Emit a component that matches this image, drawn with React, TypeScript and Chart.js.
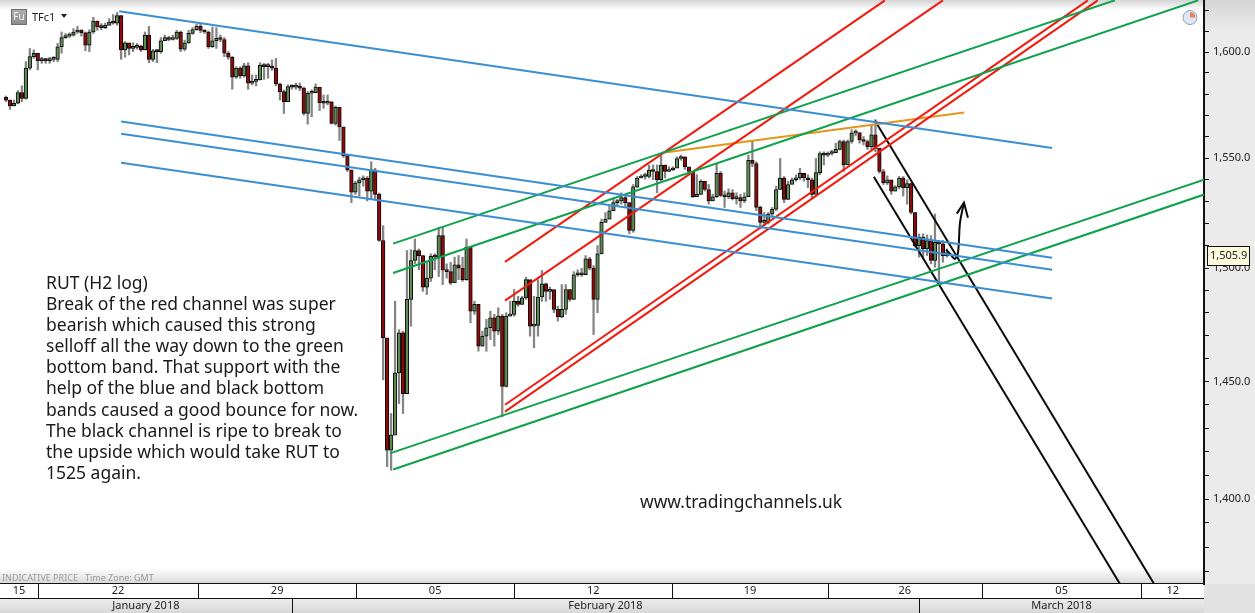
import React, { useEffect, useRef } from "react";
import { Chart, registerables } from "chart.js";

Chart.register(...registerables);

const closes = [
  1577.2,1574.4,1575.7,1580.7,1578,1592.3,1597.8,1599.4,1595.9,1596.5,1595.9,1596.5,1596.5,1602.5,1606.9,1607.6,1608.1,1609.6,1610.4,1609.2,
  1603.3,1609.6,1614.9,1612,1611.7,1612.8,1614.4,1613.9,1617.5,1601,1604.4,1601.7,1602.2,1602.8,1601,1608.1,1596.5,1600.6,1600.2,1605.4,
  1606.9,1606,1606.5,1609.6,1601.3,1604.4,1608.9,1610.7,1612.3,1610.4,1609.6,1602.5,1605.4,1606.5,1606,1599.4,1597.5,1588,1592.3,1588.6,
  1593.4,1585.2,1586,1586.7,1593.8,1593,1593,1592.3,1584.8,1581.2,1576.4,1583.6,1583.3,1583.3,1582.8,1570.9,1580.4,1580.7,1583.3,1576,
  1575.7,1576.4,1566.2,1573.8,1564.6,1551.2,1544.6,1534.4,1538.6,1540.1,1540.9,1534.9,1544.6,1533.4,1512.4,1469.1,1420.6,1427,1453.7,1471.3,
  1444.8,1486,1503.4,1507.9,1505.6,1491.5,1495.5,1505.3,1504.9,1514.6,1499.2,1498.4,1493.3,1501.4,1499.9,1494.8,1509.4,1480.8,1483.8,1465.4,
  1469.8,1473.5,1477.9,1472,1478.6,1447.9,1478.6,1479.4,1485.2,1483.8,1486.7,1494.8,1474.2,1474.5,1487.1,1493,1489.6,1490.4,1481.6,1478.3,
  1481.6,1490.4,1486,1497,1497,1497,1504.1,1500,1486,1506.4,1520.6,1522.1,1525.9,1529.6,1530.4,1531.9,1529.6,1516.9,1536.8,1540.9,
  1541.6,1541.6,1544.6,1543.9,1540.1,1546.9,1543.9,1544.6,1545.4,1549.9,1550.7,1546.1,1543.9,1532.3,1533.4,1539.4,1535.6,1530.4,1532.3,1543.1,
  1532.9,1532.3,1534.1,1531.4,1531.9,1530.4,1532.3,1549.1,1547.6,1527.4,1520.6,1520.6,1524.4,1526.6,1535.6,1540.9,1531.1,1537.9,1540.1,1540.9,
  1543.1,1540.9,1540.1,1533.4,1543.4,1552.2,1551.5,1552.2,1552.6,1554.1,1557.8,1546.9,1557.8,1561.7,1562,1558.5,1557.8,1555.4,1560.9,1554.6,
  1543.9,1538.6,1540.1,1534.9,1536.8,1540.9,1536.4,1538.3,1525.1,1510.1,1513.9,1508.6,1512.4,1503.4,1511.6,1510.9,1505.6,1506.8,
];
const highs = [
  1579.1,1577.2,1577.2,1581.7,1583.9,1595.4,1601.7,1601,1597.5,1597.5,1597,1597.5,1597.8,1604.1,1609.6,1608.9,1609.2,1611.2,1612.3,1610.7,
  1609.6,1610.7,1616.7,1614.9,1613.6,1613.9,1616,1618,1619,1617.5,1604.9,1604.1,1604.4,1604.1,1603.3,1609.6,1612.3,1601.3,1601,1606.9,
  1608.1,1607.6,1608.1,1610.4,1610.1,1605.7,1610.4,1611.7,1613.3,1613.3,1610.7,1610.1,1612,1611.7,1608.1,1606.9,1600.2,1598,1593,1593,
  1594.6,1594.9,1589,1589,1594.9,1594.6,1594.6,1596.2,1597,1585.2,1582,1584.4,1584.4,1585.2,1585.2,1583.3,1581.2,1582,1584.8,1581.2,
  1579.6,1579.6,1576.4,1574.4,1573.8,1564.3,1551.2,1544.6,1539.4,1541.3,1541.9,1541.6,1548.4,1545.4,1534,1519.1,1465.4,1436.2,1485.2,1472.7,
  1472,1507.9,1508.3,1513.1,1508.6,1505.6,1502.6,1506.4,1506.4,1518.4,1518.4,1501.9,1502.6,1504.9,1505.6,1504.9,1513.1,1495.5,1485.2,1483.8,
  1472,1477.2,1480.8,1479.4,1482.3,1479.4,1480.1,1485.2,1490.4,1487.4,1487.4,1495.9,1492.6,1487.4,1494.8,1498.9,1493.3,1491.5,1490.1,1483,
  1492.6,1492.6,1490.4,1498.4,1499.2,1499.9,1505.6,1504.9,1501.1,1510.1,1522.1,1525.1,1528.1,1531.1,1531.1,1534.1,1532.6,1529.6,1537.9,1541.6,
  1542.4,1543.1,1546.9,1546.9,1546.9,1551.5,1546.9,1546.1,1546.1,1550.7,1551.5,1550.7,1545.4,1543.9,1542.4,1540.1,1539.4,1537.9,1533.4,1547.6,
  1543.9,1534.9,1535.9,1535.6,1534.1,1533.4,1534.1,1551.5,1557.8,1548.4,1528.1,1525.1,1525.1,1527.4,1537.1,1549.9,1541.6,1539.4,1540.9,1542.4,
  1545.4,1543.1,1542.4,1540.9,1549.9,1553,1553,1553,1553.8,1557,1558.5,1558.5,1558.5,1563.3,1563.3,1561.7,1560.1,1558.5,1565.6,1568,
  1552.2,1544.9,1541.9,1539.4,1537.4,1541.6,1541.6,1540.1,1538.6,1525.1,1515.4,1515.4,1514.9,1514.6,1524.4,1512.4,1512.4,1508.6,
];
const lows = [
  1576.4,1572.8,1574.4,1575.4,1576.4,1577.6,1591.5,1597,1591.5,1594.6,1594.6,1594.6,1595.4,1595.4,1599.4,1606.5,1606.9,1607.6,1608.9,1607.6,
  1600.6,1600.2,1608.9,1610.4,1610.7,1611.2,1613.3,1613.3,1612.8,1596.5,1597.5,1598.6,1600.2,1601.3,1600.2,1601,1594.9,1595.4,1594.9,1599.4,
  1605.4,1605.4,1605.7,1606,1600.2,1600.6,1604.1,1608.5,1610.4,1609.2,1608.9,1601.7,1602.2,1601.7,1604.9,1597.8,1596.5,1582.3,1587.5,1587.5,
  1588,1582.3,1584.4,1583.9,1586.7,1587,1587.5,1591.2,1583.9,1577.2,1570.9,1578.8,1582.3,1582.3,1581.7,1570.1,1565.9,1569.4,1581.7,1572.2,
  1573.3,1574.9,1565.9,1565.4,1558.3,1550.4,1543.9,1529.6,1533.4,1532.6,1537.1,1530.4,1531.1,1531.1,1512,1450.7,1413.6,1412.1,1443.3,1440.5,
  1436.2,1464.7,1474.2,1501.9,1499.2,1489.6,1488.2,1494,1499.2,1496.2,1492.6,1495.5,1492.6,1494,1494.8,1494,1494.5,1475.7,1479.4,1463.2,
  1465.4,1463.2,1468.3,1465.4,1470.5,1434.8,1447.6,1478.6,1478.6,1483,1483.8,1486,1469.8,1464.7,1469.8,1485.2,1485.2,1486,1480.1,1476.4,
  1477.9,1479.4,1485.2,1486,1496.2,1496.2,1497,1499.2,1470.5,1480.1,1506.4,1520.6,1522.1,1526.6,1528.1,1528.9,1527.4,1515.4,1516.1,1536.4,
  1540.9,1540.4,1540.9,1540.1,1534.1,1539.4,1540.9,1543.9,1544.3,1548.4,1549.1,1544.9,1542.4,1531.9,1532.6,1533.4,1534.9,1528.9,1530.4,1531.9,
  1532.3,1527.4,1531.4,1530.8,1528.9,1527.4,1529.6,1532.3,1546.1,1525.9,1517.6,1519.1,1519.9,1523.6,1525.9,1535.6,1529.6,1531.1,1538.6,1539.4,
  1540.1,1539.4,1536.4,1531.9,1534.9,1542.4,1546.9,1550.7,1551.5,1553,1553.8,1543.9,1555.4,1557,1560.4,1557,1556.2,1554.1,1553.8,1553,
  1543.1,1537.9,1537.9,1533.4,1534.9,1535.9,1532.6,1528.9,1524.4,1509.4,1504.9,1504.9,1505.6,1501.9,1500.4,1493.6,1502.6,1504.9,
];
const firstOpen = 1578.5;
const opens = closes.map((_, i) => (i === 0 ? firstOpen : closes[i - 1]));

const priceTicks = [1370,1380,1390,1400,1410,1420,1430,1440,1450,1460,1470,1480,1490,1500,1510,1520,1530,1540,1550,1560,1570,1580,1590,1600,1610,1620];
const weekBoundaries = [8.06, 48.4, 88.2, 128, 167.8, 207, 245.8, 286];
const weekLabels = ["15", "22", "29", "05", "12", "19", "26", "05", "12"];
const monthBoundaries = [72, 230];
const monthLabels = ["January 2018", "February 2018", "March 2018"];
const lastPriceLabel = "1,505.9";
const noteLines = [
  "RUT (H2 log)",
  "Break of the red channel was super",
  "bearish which caused this strong",
  "selloff all the way down to the green",
  "bottom band. That support with the",
  "help of the blue and black bottom",
  "bands caused a good bounce for now.",
  "The black channel is ripe to break to",
  "the upside which would take RUT to",
  "1525 again.",
];
const siteLabel = "www.tradingchannels.uk";
const footerLabel = "INDICATIVE PRICE   Time Zone: GMT";
const symbolLabel = "TFc1";
const badgeLabel = "Fu";

const blue = "#3a8fd2";
const green = "#0ea24a";
const red = "#f01c10";
const orange = "#e6951a";
const black = "#0a0a0a";

const blueLines = [
  [[28.5, 1619.6], [263.5, 1554.8]],
  [[29, 1567.1], [263.5, 1504.6]],
  [[29, 1561.4], [263.5, 1499.2]],
  [[29, 1547.9], [263.5, 1486.4]],
];
const greenLines = [
  [[97.5, 1511], [279.3, 1624.9]],
  [[97.5, 1497.8], [300.3, 1624.9]],
  [[96.7, 1419.2], [301.8, 1540.1]],
  [[97.5, 1412.4], [301.8, 1533.3]],
];
const redLines = [
  [[125.7, 1502.8], [221.4, 1624.9]],
  [[125.7, 1485.5], [236, 1624.9]],
  [[125.7, 1440], [272.5, 1624.9]],
  [[125.7, 1437], [275, 1624.9]],
];
const orangeLines = [[[165, 1552.5], [241.3, 1571.3]]];
const blackLines = [
  [[218.9, 1567.5], [289.2, 1364.9]],
  [[218.6, 1541.5], [280.6, 1364.9]],
];
const arrowCurve = [[236.8, 1508.2], [237.8, 1506.4], [239, 1504.1], [239.8, 1506.9], [240.3, 1520.5], [241.3, 1529.6]];
const arrowHead = [[239.5, 1524.6], [241.3, 1529.6], [242.3, 1522.7]];

const FONT = '"Noto Sans", Tahoma, sans-serif';
const X_MIN = -1.511;
const X_MAX = 301.76;

function lineSet(points: number[][], color: string, tension = 0) {
  return {
    type: "line" as const,
    data: points.map(([x, y]) => ({ x, y })),
    borderColor: color,
    borderWidth: 2,
    pointRadius: 0,
    tension,
    order: 1,
  };
}

function midpoints(bounds: number[]) {
  const all = [X_MIN, ...bounds, X_MAX];
  return all.slice(1).map((v, i) => (v + all[i]) / 2);
}

const decor = {
  id: "decor",
  beforeDraw(chart: any) {
    const { ctx, chartArea: a, width: W, height: H } = chart;
    ctx.save();
    ctx.fillStyle = "#ffffff";
    ctx.fillRect(0, 0, W, H);
    let g = ctx.createLinearGradient(0, 0, 0, 10);
    g.addColorStop(0, "#d4d4d4");
    g.addColorStop(1, "#ffffff");
    ctx.fillStyle = g;
    ctx.fillRect(0, 0, a.right, 10);
    g = ctx.createLinearGradient(0, a.bottom - 16, 0, a.bottom);
    g.addColorStop(0, "#ffffff");
    g.addColorStop(1, "#d8d8d8");
    ctx.fillStyle = g;
    ctx.fillRect(0, a.bottom - 16, a.right, 16);
    g = ctx.createLinearGradient(0, 0, 0, 30);
    g.addColorStop(0, "#d4d4d4");
    g.addColorStop(1, "#ebebeb");
    ctx.fillStyle = g;
    ctx.fillRect(a.right, 0, W - a.right, H);
    g = ctx.createLinearGradient(0, a.bottom + 15, 0, H);
    g.addColorStop(0, "#ececec");
    g.addColorStop(1, "#d8d8d8");
    ctx.fillStyle = g;
    ctx.fillRect(0, a.bottom + 15, a.right, H - a.bottom - 15);
    ctx.fillStyle = "#e2e2e2";
    ctx.fillRect(a.right, a.bottom, W - a.right, H - a.bottom);
    ctx.restore();
  },
  afterDraw(chart: any) {
    const { ctx, chartArea: a, width: W, height: H, scales } = chart;
    ctx.save();
    ctx.strokeStyle = "#111111";
    ctx.lineWidth = 1;
    const hline = (y: number, x0: number, x1: number) => {
      ctx.beginPath();
      ctx.moveTo(x0, y + 0.5);
      ctx.lineTo(x1, y + 0.5);
      ctx.stroke();
    };
    const vline = (x: number, y0: number, y1: number) => {
      const px = Math.round(x) + 0.5;
      ctx.beginPath();
      ctx.moveTo(px, y0);
      ctx.lineTo(px, y1);
      ctx.stroke();
    };
    hline(a.bottom - 1, 0, a.right);
    hline(a.bottom + 14, 0, a.right);
    weekBoundaries.forEach((b) => vline(scales.x.getPixelForValue(b), a.bottom, a.bottom + 14));
    monthBoundaries.forEach((b) => vline(scales.x.getPixelForValue(b), a.bottom + 15, H));

    ctx.fillStyle = "#1a1a1a";
    ctx.textAlign = "left";
    ctx.textBaseline = "middle";
    ctx.font = `17.5px ${FONT}`;
    noteLines.forEach((t, i) => ctx.fillText(t, 46, 284 + i * 21.1));
    ctx.font = `17.4px ${FONT}`;
    ctx.fillText(siteLabel, 640, 503);

    ctx.fillStyle = "#9a9a9a";
    ctx.font = `9px ${FONT}`;
    ctx.fillText(footerLabel, 2, 578);

    const bg = ctx.createLinearGradient(0, 9, 0, 25);
    bg.addColorStop(0, "#b0b0b0");
    bg.addColorStop(1, "#8c8c8c");
    ctx.fillStyle = bg;
    ctx.fillRect(11, 9, 16, 16);
    ctx.strokeStyle = "#6e6e6e";
    ctx.strokeRect(11.5, 9.5, 15, 15);
    ctx.fillStyle = "#f2f2f2";
    ctx.font = `10px ${FONT}`;
    ctx.textAlign = "center";
    ctx.fillText(badgeLabel, 19, 17);
    ctx.textAlign = "left";
    ctx.fillStyle = "#222222";
    ctx.font = `11px ${FONT}`;
    ctx.fillText(symbolLabel, 32, 17.5);
    ctx.beginPath();
    ctx.moveTo(61, 14);
    ctx.lineTo(67, 14);
    ctx.lineTo(64, 18);
    ctx.closePath();
    ctx.fill();

    ctx.beginPath();
    ctx.arc(1190, 17.5, 7, 0, Math.PI * 2);
    ctx.fillStyle = "#dbe7f3";
    ctx.fill();
    ctx.strokeStyle = "#8ba3c0";
    ctx.stroke();
    ctx.beginPath();
    ctx.moveTo(1190, 17.5);
    ctx.arc(1190, 17.5, 5.5, -Math.PI / 2, 0);
    ctx.closePath();
    ctx.fillStyle = "#e8805a";
    ctx.fill();

    ctx.fillStyle = "#fdfbdc";
    ctx.fillRect(1207.5, 246.5, 42, 19);
    ctx.strokeStyle = "#111111";
    ctx.strokeRect(1207.5, 246.5, 42, 19);
    ctx.fillStyle = "#222222";
    ctx.font = `11px ${FONT}`;
    ctx.fillText(lastPriceLabel, 1210, 256);
    ctx.restore();
  },
};

export default function App() {
  const ref = useRef<HTMLCanvasElement>(null);
  useEffect(() => {
    document.body.style.margin = "0";
    const xs = closes.map((_, i) => i);
    const chart = new Chart(ref.current as any, {
      type: "bar",
      plugins: [decor],
      data: {
        datasets: [
          {
            data: xs.map((i) => ({ x: i, y: [lows[i], highs[i]] })),
            backgroundColor: "#858585",
            barThickness: 1.6,
            grouped: false,
            order: 3,
          },
          {
            data: xs.map((i) => ({ x: i, y: [opens[i], closes[i]] })),
            backgroundColor: xs.map((i) => (closes[i] >= opens[i] ? "#5d8a55" : "#8e0a0a")),
            borderColor: "#0a0a0a",
            borderWidth: 1,
            borderSkipped: false,
            barThickness: 3.6,
            minBarLength: 2,
            grouped: false,
            order: 2,
          },
          ...blueLines.map((l) => lineSet(l, blue)),
          ...greenLines.map((l) => lineSet(l, green)),
          ...redLines.map((l) => lineSet(l, red)),
          ...orangeLines.map((l) => lineSet(l, orange)),
          ...blackLines.map((l) => lineSet(l, black)),
          lineSet(arrowCurve, black, 0.3),
          lineSet(arrowHead, black),
        ] as any,
      },
      options: {
        animation: false,
        responsive: false,
        layout: { padding: 0 },
        plugins: { legend: { display: false }, tooltip: { enabled: false }, title: { display: false } },
        scales: {
          x: {
            type: "linear",
            position: "bottom",
            weight: 2,
            offset: false,
            min: X_MIN,
            max: X_MAX,
            border: { display: false },
            grid: { display: false, drawTicks: false },
            afterFit(s: any) {
              s.height = 15;
              s.paddingLeft = 0;
              s.paddingRight = 0;
            },
            afterBuildTicks(s: any) {
              s.ticks = midpoints(weekBoundaries).map((value) => ({ value }));
            },
            ticks: {
              autoSkip: false,
              maxRotation: 0,
              padding: 0,
              color: "#222222",
              font: { family: FONT, size: 11 },
              callback: (_v: any, i: number) => weekLabels[i],
            },
          },
          xMonth: {
            type: "linear",
            position: "bottom",
            weight: 3,
            offset: false,
            min: X_MIN,
            max: X_MAX,
            border: { display: false },
            grid: { display: false, drawTicks: false },
            afterFit(s: any) {
              s.height = 14;
              s.paddingLeft = 0;
              s.paddingRight = 0;
            },
            afterBuildTicks(s: any) {
              s.ticks = midpoints(monthBoundaries).map((value) => ({ value }));
            },
            ticks: {
              autoSkip: false,
              maxRotation: 0,
              padding: 0,
              color: "#222222",
              font: { family: FONT, size: 11 },
              callback: (_v: any, i: number) => monthLabels[i],
            },
          },
          y: {
            type: "logarithmic",
            position: "right",
            bounds: "data",
            min: 1364.9,
            max: 1625.05,
            border: { display: true, color: "#111111", width: 2 },
            grid: { drawOnChartArea: false, drawTicks: true, tickLength: 5, tickWidth: 1, tickColor: "#111111" },
            afterFit(s: any) {
              s.width = 51;
              s.paddingTop = 0;
              s.paddingBottom = 0;
            },
            afterBuildTicks(s: any) {
              s.ticks = priceTicks.map((value) => ({ value }));
            },
            ticks: {
              autoSkip: false,
              padding: 4,
              color: "#222222",
              font: { family: FONT, size: 11 },
              callback: (v: any) =>
                Number(v) % 50 === 0 ? Number(v).toLocaleString("en-US", { minimumFractionDigits: 1 }) : "",
            },
          },
        },
      } as any,
    });
    return () => chart.destroy();
  }, []);
  return <canvas ref={ref} width={1255} height={613} style={{ display: "block" }} />;
}
